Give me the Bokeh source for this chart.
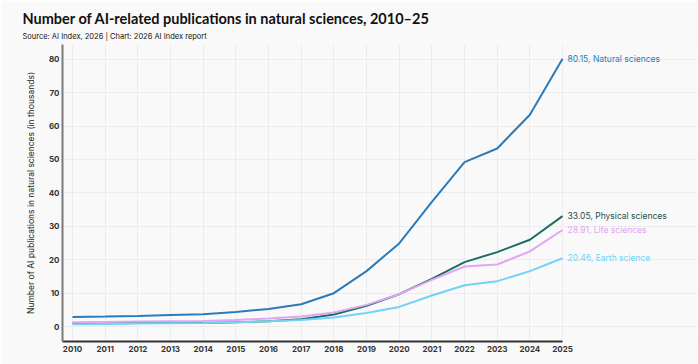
from bokeh.plotting import figure
from bokeh.models import Title, Range1d, FixedTicker, ColumnDataSource, LabelSet
from bokeh.core.properties import value
from bokeh.embed import file_html
from bokeh.resources import INLINE

years = list(range(2010, 2026))
natural = [2.9, 3.0, 3.2, 3.5, 3.7, 4.4, 5.3, 6.7, 10.0, 16.6, 24.9, 37.3, 49.2, 53.3, 63.4, 80.15]
physical = [1.0, 1.0, 1.1, 1.1, 1.1, 1.3, 1.6, 2.2, 3.6, 6.2, 9.7, 14.3, 19.3, 22.3, 26.0, 33.05]
life = [1.3, 1.4, 1.5, 1.6, 1.7, 2.0, 2.4, 3.0, 4.2, 6.5, 9.7, 14.0, 18.0, 18.6, 22.5, 28.91]
earth = [0.7, 0.8, 0.9, 1.0, 1.1, 1.3, 1.6, 2.0, 2.7, 4.1, 5.9, 9.3, 12.4, 13.6, 16.6, 20.46]

series = [
    ("Natural sciences", natural, "#2b7bba", "#2b7bba"),
    ("Physical sciences", physical, "#1b6e66", "#1f4f4c"),
    ("Life sciences", life, "#e2a5f2", "#e2a5f2"),
    ("Earth science", earth, "#73d2f6", "#73d2f6"),
]

FONT = "Lato"
BG = "#f9f9f9"
X0, XDATA_END, XFRAME_END = 2009.694, 2025.0, 2029.1

p = figure(width=698, height=364, output_backend="svg", toolbar_location=None,
           x_range=Range1d(X0, XFRAME_END), y_range=Range1d(-4.45, 84.4),
           min_border_left=62, min_border_right=2, min_border_top=10, min_border_bottom=23)
p.background_fill_color = BG
p.border_fill_color = BG
p.outline_line_color = None

sub = Title(text="Source: AI Index, 2026 | Chart: 2026 AI Index report", align="left",
            text_font="Inter", text_font_size="7.5px", text_font_style="normal",
            text_color="#111111", offset=-40, standoff=7)
p.add_layout(sub, "above")
ttl = Title(text="Number of AI-related publications in natural sciences, 2010\u201325", align="left",
            text_font=FONT, text_font_size="14.5px", text_font_style="bold",
            text_color="#111111", offset=-40, standoff=0)
p.add_layout(ttl, "above")
spacer = Title(text=" ", text_font_size="4px", standoff=0)
p.add_layout(spacer, "above")

for name, vals, col, tcol in series:
    p.line(years, vals, line_color=col, line_width=2)
    src = ColumnDataSource(dict(x=[years[-1]], y=[vals[-1]], t=[f"{vals[-1]:.2f}, {name}"]))
    p.add_layout(LabelSet(x="x", y="y", text="t", source=src, x_offset=5, text_baseline="middle",
                          text_font=value("Inter"), text_font_size=value("8.5px"),
                          text_color=value(tcol)))

p.xaxis.ticker = FixedTicker(ticks=years)
p.yaxis.ticker = FixedTicker(ticks=list(range(0, 81, 10)))
for ax in (p.xaxis, p.yaxis):
    ax.major_label_text_font = "Inter"
    ax.major_label_text_font_size = "8px"
    ax.major_label_text_font_style = "bold"
    ax.major_label_text_color = "#333333"
    ax.major_tick_line_color = None
    ax.minor_tick_line_color = None
    ax.major_tick_out = 0
    ax.major_tick_in = 0
    ax.minor_tick_out = 0
    ax.axis_line_width = 2
p.xaxis.bounds = (X0, XDATA_END)
p.xaxis.axis_line_color = "#333333"
p.yaxis.axis_line_color = "#7a7a7a"
p.xaxis.major_label_standoff = 4
p.yaxis.major_label_standoff = 3
p.yaxis.axis_label = "Number of AI publications in natural sciences (in thousands)"
p.yaxis.axis_label_text_font = "Inter"
p.yaxis.axis_label_text_font_size = "8.5px"
p.yaxis.axis_label_text_font_style = "normal"
p.yaxis.axis_label_text_color = "#222222"
p.yaxis.axis_label_standoff = 10
p.xgrid.grid_line_color = "#ececec"
p.ygrid.grid_line_color = "#ececec"
p.ygrid.bounds = (X0, XDATA_END)

open("out.html", "w").write(file_html(p, INLINE))
